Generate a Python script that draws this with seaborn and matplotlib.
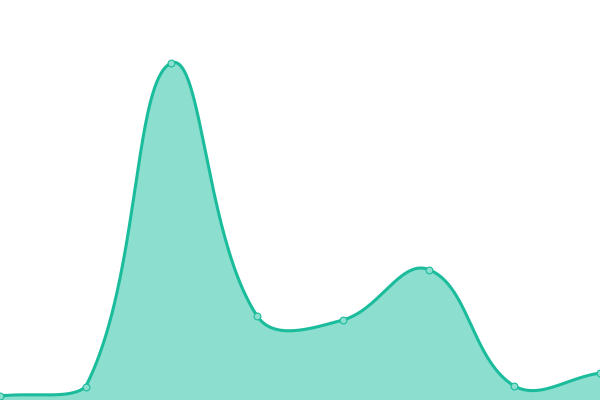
import numpy as np
import pandas as pd
import matplotlib
matplotlib.use("Agg")
import matplotlib.pyplot as plt
import seaborn as sns

# data
x_idx = [0, 1, 2, 3, 4, 5, 6, 7]
values = [4, 13.5, 337, 84, 80, 130.5, 14, 27]

LINE = "#1abc9c"
FILL = "#8cdecf"
W, H = 600.0, 400.0
XMAX, YMAX = 7.0, 400.0
TENSION = 0.4


def spline_path(xs, ys, t=TENSION, n=80):
    # tension spline with control points capped to the plotting area (pixel space)
    P = np.column_stack([np.asarray(xs, float) * W / XMAX,
                         np.asarray(ys, float) * H / YMAX])
    k = len(P)
    prev_c, next_c = [], []
    for i in range(k):
        prv = P[i - 1] if i > 0 else P[i]
        nxt = P[i + 1] if i < k - 1 else P[i]
        cur = P[i]
        d01 = np.hypot(*(cur - prv))
        d12 = np.hypot(*(nxt - cur))
        tot = d01 + d12
        s01 = d01 / tot if tot > 0 else 0.0
        s12 = d12 / tot if tot > 0 else 0.0
        pc = cur - t * s01 * (nxt - prv)
        nc = cur + t * s12 * (nxt - prv)
        pc = np.array([np.clip(pc[0], 0, W), np.clip(pc[1], 0, H)])
        nc = np.array([np.clip(nc[0], 0, W), np.clip(nc[1], 0, H)])
        prev_c.append(pc)
        next_c.append(nc)
    out = [P[0:1]]
    for i in range(k - 1):
        p1, c1, c2, p2 = P[i], next_c[i], prev_c[i + 1], P[i + 1]
        u = np.linspace(0, 1, n)[1:, None]
        seg = ((1 - u) ** 3) * p1 + 3 * ((1 - u) ** 2) * u * c1 + 3 * (1 - u) * u ** 2 * c2 + u ** 3 * p2
        out.append(seg)
    Q = np.vstack(out)
    return Q[:, 0] * XMAX / W, Q[:, 1] * YMAX / H


cx, cy = spline_path(x_idx, values)
curve = pd.DataFrame({"x": cx, "y": cy})
pts = pd.DataFrame({"x": x_idx, "y": values})

sns.set_style("white")
fig = plt.figure(figsize=(6, 4), dpi=100)
ax = fig.add_axes([0, 0, 1, 1])
ax.fill_between(cx, 0, cy, color=FILL, linewidth=0)
sns.lineplot(data=curve, x="x", y="y", ax=ax, color=LINE, linewidth=2.2, sort=False)
sns.scatterplot(data=pts, x="x", y="y", ax=ax, s=24, color=FILL, edgecolor=LINE,
                linewidth=0.8, zorder=5)
ax.set_xlim(0, XMAX)
ax.set_ylim(0, YMAX)
ax.axis("off")
fig.savefig("out.png", dpi=100)
